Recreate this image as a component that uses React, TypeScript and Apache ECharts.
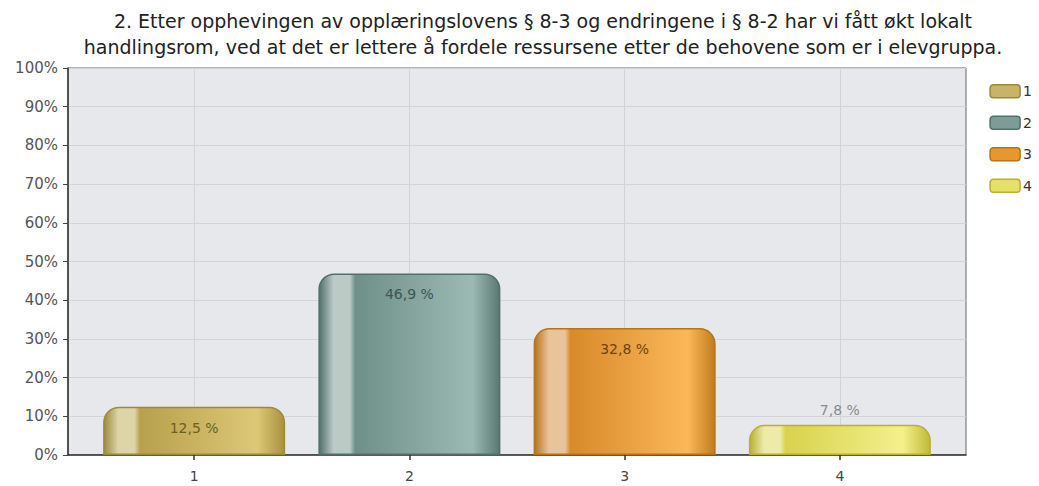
import React, { useEffect, useRef } from "react";
import * as echarts from "echarts";

const titleLines = [
  "2. Etter opphevingen av opplæringslovens § 8-3 og endringene i § 8-2 har vi fått økt lokalt",
  "handlingsrom, ved at det er lettere å fordele ressursene etter de behovene som er i elevgruppa.",
];
const categories = ["1", "2", "3", "4"];
const categoryPositions = [1, 2, 3, 4];
const values = [12.5, 46.9, 32.8, 7.8];
const yTicks = [0, 10, 20, 30, 40, 50, 60, 70, 80, 90, 100];

// gradient stops per bar: [edgeDark, highlight, body, bodyLight, edgeRight]
const barPalettes = [
  ["#9c8a3c", "#ddd4a8", "#b8a04c", "#dcc878", "#a8923e"],
  ["#52706b", "#bccac6", "#6f8f89", "#9cbab4", "#5a7772"],
  ["#b87218", "#e8c49a", "#d88a28", "#fbb75a", "#c07c1c"],
  ["#b8b030", "#eeeaa8", "#d8d24c", "#f4f08c", "#c0ba36"],
];
const legendColors = ["#c8b468", "#7e9c97", "#e8962e", "#e4e06a"];
const labelColors = ["#6e5e22", "#3d5451", "#6e420e", "#8a8a8a"];

function fmt(v: number) {
  return v.toFixed(1).replace(".", ",") + " %";
}

export default function App() {
  const ref = useRef<HTMLDivElement>(null);
  useEffect(() => {
    document.body.style.margin = "0";
    const chart = echarts.init(ref.current!, null, { renderer: "svg" });
    const font = "'DejaVu Sans', Verdana, sans-serif";
    const series: any[] = categories.map((name, i) => {
      const p = barPalettes[i];
      return {
        name,
        type: "bar",
        stack: "all",
        barWidth: 182,
        z: 3,
        data: [[categoryPositions[i], values[i]]],
        itemStyle: {
          borderRadius: [15, 15, 0, 0],
          borderColor: p[0],
          borderWidth: 1.5,
          color: new echarts.graphic.LinearGradient(0, 0, 1, 0, [
            { offset: 0, color: p[0] },
            { offset: 0.08, color: p[1] },
            { offset: 0.17, color: p[1] },
            { offset: 0.2, color: p[2] },
            { offset: 0.85, color: p[3] },
            { offset: 1, color: p[4] },
          ]),
        },
        label: {
          show: true,
          position: i === 3 ? "top" : "insideTop",
          distance: i === 3 ? 8 : 14,
          formatter: () => fmt(values[i]),
          color: labelColors[i],
          fontSize: 14,
          fontFamily: font,
        },
      };
    });
    series.push({
      name: "grid",
      type: "line",
      z: 1,
      data: [],
      silent: true,
      markLine: {
        silent: true,
        z: 1,
        symbol: "none",
        label: { show: false },
        lineStyle: { color: "#d2d4d8", type: "solid", width: 1 },
        data: categoryPositions.map((x) => ({ xAxis: x })),
      },
    });
    chart.setOption({
      animation: false,
      title: {
        text: titleLines.join("\n"),
        left: 538,
        top: 3,
        textAlign: "center",
        textStyle: {
          fontSize: 19,
          fontWeight: "normal",
          color: "#222",
          lineHeight: 26,
          fontFamily: font,
        },
      },
      legend: {
        orient: "vertical",
        right: 2,
        top: 79,
        itemWidth: 30,
        itemHeight: 13,
        itemGap: 17,
        icon: "roundRect",
        data: categories.map((name, i) => ({
          name,
          itemStyle: { color: legendColors[i], borderColor: barPalettes[i][0], borderWidth: 1.5 },
        })),
        textStyle: { fontSize: 14, color: "#333", fontFamily: font, padding: [0, 0, 0, -2] },
      },
      grid: {
        left: 68,
        right: 73,
        top: 68,
        bottom: 31,
        show: true,
        backgroundColor: "#e7e8ec",
        borderColor: "#666",
        borderWidth: 1,
      },
      xAxis: {
        type: "value",
        min: 0.414,
        max: 4.586,
        axisLine: { show: true, lineStyle: { color: "#333", width: 1.5 } },
        axisTick: {
          show: true,
          length: 5,
          customValues: categoryPositions,
          lineStyle: { color: "#333", width: 1.5 },
        },
        axisLabel: {
          customValues: categoryPositions,
          formatter: (v: number) => categories[categoryPositions.indexOf(Math.round(v))] ?? "",
          color: "#444",
          fontSize: 14,
          margin: 14,
          fontFamily: font,
        },
        splitLine: { show: false },
      },
      yAxis: {
        type: "value",
        min: yTicks[0],
        max: yTicks[yTicks.length - 1],
        interval: 10,
        axisLine: { show: true, lineStyle: { color: "#333", width: 1.5 } },
        axisTick: { show: true, length: 5, lineStyle: { color: "#444" } },
        axisLabel: {
          formatter: "{value}%",
          color: "#555",
          fontSize: 15,
          margin: 10,
          fontFamily: font,
        },
        splitLine: { show: true, lineStyle: { color: "#d2d4d8", width: 1 } },
      },
      series,
    });
    return () => chart.dispose();
  }, []);
  return <div ref={ref} style={{ width: 1039, height: 486 }} />;
}
